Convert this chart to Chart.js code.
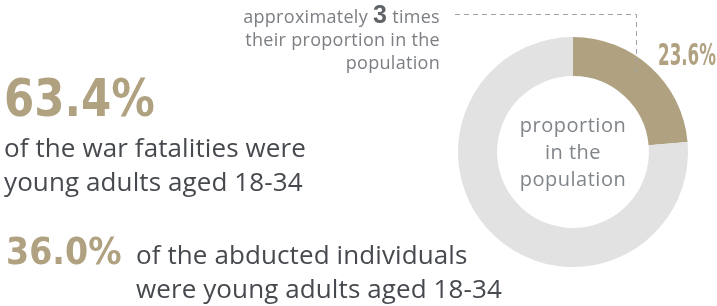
<!DOCTYPE html>
<html>
<head>
<meta charset="utf-8">
<script src="https://cdn.jsdelivr.net/npm/chart.js@4"></script>
<style>
  html, body { margin: 0; padding: 0; background: #fff; }
  #wrap { position: relative; width: 717px; height: 306px; overflow: hidden; }
  #donut { position: absolute; left: 0; top: 0; }
  .t { position: absolute; white-space: nowrap; font-family: "Open Sans", sans-serif; }
  .big { color: #b0a281; font-family: "DejaVu Sans Condensed", "DejaVu Sans", sans-serif; font-weight: bold; transform-origin: left top; }
  .body { color: #46494e; font-size: 26px; line-height: 34px; letter-spacing: 0.1px; }
  .note { color: #7b7e83; font-size: 18px; line-height: 23px; text-align: right; letter-spacing: 0.3px; }
  .note b { color: #606368; font-size: 25px; font-family: "Liberation Sans", sans-serif; }
</style>
</head>
<body>
<div id="wrap">
  <canvas id="donut" width="717" height="306"></canvas>
  <div class="t note" style="right:277px; top:3px;">approximately <b>3</b> times<br>their proportion in the<br>population</div>
  <div class="t big" style="left:4px; top:68px; font-size:52px; transform: scaleX(0.93);">63.4%</div>
  <div class="t body" style="left:4px; top:130px;">of the war fatalities were<br>young adults aged 18-34</div>
  <div class="t big" style="left:6px; top:230px; font-size:37px;">36.0%</div>
  <div class="t body" style="left:136px; top:237px;">of the abducted individuals<br>were young adults aged 18-34</div>
</div>
<script>
// 인구 중 18-34세 비율 도넛
const labels = ['young adults aged 18-34', 'rest of the population'];
const shares = [23.6, 76.4];
const colors = ['#b0a281', '#e2e2e3'];
const centerLines = ['proportion', 'in the', 'population'];

const overlay = {
  id: 'overlay',
  afterDraw(ch) {
    const ctx = ch.ctx;
    const arc = ch.getDatasetMeta(0).data[0];
    const cx = arc.x, cy = arc.y;

    // 가운데 설명
    ctx.save();
    ctx.fillStyle = '#80858a';
    ctx.font = '20px "Open Sans", sans-serif';
    ctx.letterSpacing = '0.5px';
    ctx.textAlign = 'center';
    ctx.textBaseline = 'middle';
    centerLines.forEach((s, i) => ctx.fillText(s, cx, cy - 26 + i * 27));
    ctx.restore();

    // 비율 라벨 — 좁은 글꼴 흉내 (가로 압축)
    ctx.save();
    ctx.fillStyle = colors[0];
    ctx.font = 'bold 31px "DejaVu Sans Condensed", sans-serif';
    ctx.textBaseline = 'alphabetic';
    const txt = shares[0].toFixed(1) + '%';
    const w = ctx.measureText(txt).width;
    ctx.translate(cx + 85, cy - 87);
    ctx.scale(58 / w, 1);
    ctx.fillText(txt, 0, 0);
    ctx.restore();

    // 점선 연결
    ctx.save();
    ctx.strokeStyle = '#a0a3a7';
    ctx.lineWidth = 1;
    ctx.setLineDash([5, 4]);
    ctx.beginPath();
    ctx.moveTo(455, 14.5);
    ctx.lineTo(636.5, 14.5);
    ctx.lineTo(636.5, 74);
    ctx.stroke();
    ctx.restore();
  }
};

new Chart(document.getElementById('donut'), {
  type: 'doughnut',
  data: {
    labels,
    datasets: [{ data: shares, backgroundColor: colors, borderWidth: 0 }]
  },
  options: {
    responsive: false,
    animation: false,
    cutout: '66%',
    layout: { padding: { left: 458, right: 29, top: 37, bottom: 39 } },
    plugins: { legend: { display: false }, tooltip: { enabled: false } }
  },
  plugins: [overlay]
});
</script>
</body>
</html>
